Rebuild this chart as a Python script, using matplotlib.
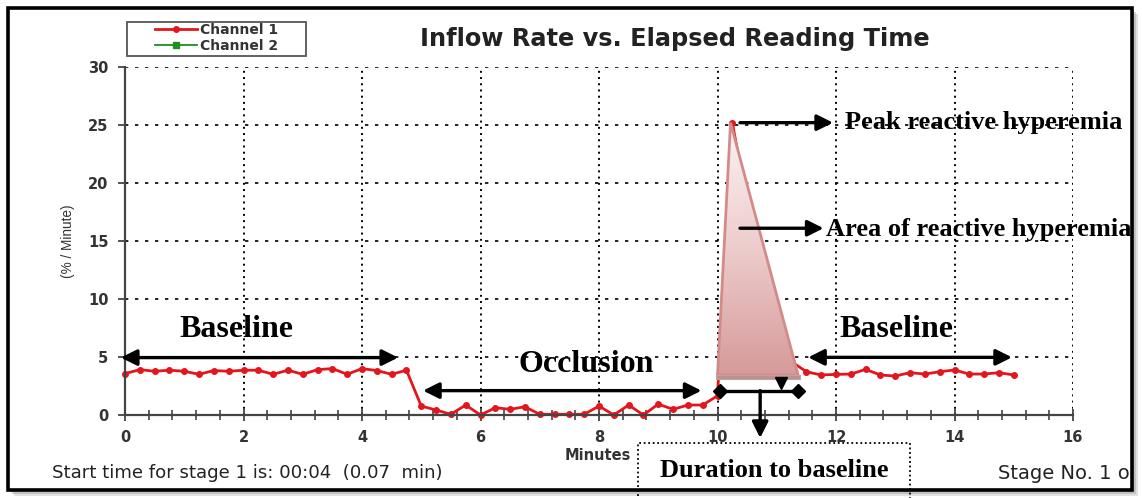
import numpy as np
import matplotlib
matplotlib.use('Agg')
import matplotlib.pyplot as plt
from matplotlib.patches import Rectangle, Polygon
from matplotlib.ticker import MultipleLocator
from matplotlib.colors import LinearSegmentedColormap

# ---------------- data ----------------
minutes = [0.0, 0.25, 0.5, 0.75, 1.0, 1.25, 1.5, 1.75, 2.0, 2.25, 2.5, 2.75,
           3.0, 3.25, 3.5, 3.75, 4.0, 4.25, 4.5, 4.75, 5.0, 5.25, 5.5, 5.75,
           6.0, 6.25, 6.5, 6.75, 7.0, 7.25, 7.5, 7.75, 8.0, 8.25, 8.5, 8.75,
           9.0, 9.25, 9.5, 9.75, 10.0, 10.25, 10.5, 10.75, 11.0, 11.25, 11.5,
           11.75, 12.0, 12.25, 12.5, 12.75, 13.0, 13.25, 13.5, 13.75, 14.0,
           14.25, 14.5, 14.75, 15.0]
channel1 = [3.57, 3.91, 3.77, 3.86, 3.77, 3.51, 3.83, 3.77, 3.86, 3.86, 3.51, 3.86,
            3.51, 3.91, 4.00, 3.51, 4.00, 3.83, 3.51, 3.86, 0.77, 0.43, 0.06, 0.86,
            0.00, 0.63, 0.49, 0.71, 0.06, 0.06, 0.06, 0.06, 0.77, 0.00, 0.86, 0.00,
            0.94, 0.49, 0.86, 0.86, 1.66, 25.2, 18.3, 13.2, 8.4, 4.6, 3.73,
            3.45, 3.50, 3.53, 3.93, 3.45, 3.36, 3.65, 3.53, 3.73, 3.88,
            3.53, 3.53, 3.65, 3.45]
series_labels = ['Channel 1', 'Channel 2']
x_ticks = [0, 2, 4, 6, 8, 10, 12, 14, 16]
y_ticks = [0, 5, 10, 15, 20, 25, 30]

# reactive-hyperemia area triangle (minutes, % / minute)
area_x = [10.0, 10.22, 11.36]
area_y = [3.45, 25.2, 3.45]

W, H = 1142, 498
fig = plt.figure(figsize=(W / 100, H / 100), dpi=100)
fig.patch.set_facecolor('white')


def px(x, y):
    return (x / W, 1 - y / H)


# frame with shadow
for off, a in [(6, 0.25), (4, 0.35), (2, 0.5)]:
    fig.patches.append(Rectangle(px(8 + off, 490 + off), 1124 / W, 482 / H,
                                 transform=fig.transFigure, facecolor='#8a8a8a',
                                 edgecolor='none', alpha=a, zorder=-3))
fig.patches.append(Rectangle(px(8, 490), 1124 / W, 482 / H, transform=fig.transFigure,
                             facecolor='white', edgecolor='black', lw=2.6, zorder=-1))

left, right, bottom, top = 125, 1073, 415, 67
ax = fig.add_axes([left / W, 1 - bottom / H, (right - left) / W, (bottom - top) / H])
ax.patch.set_alpha(0)

red = '#e3161d'
ax.plot(minutes, channel1, color=red, lw=2.0, marker='o', ms=4, zorder=2,
        clip_on=False)
ax.plot([], [], color='#1f8f1f', lw=1.3, marker='s', ms=5)

# gradient triangle
tri = Polygon(list(zip(area_x, area_y)), closed=True, facecolor='none',
              edgecolor='#d58a8a', lw=2, zorder=4)
ax.add_patch(tri)
cmap = LinearSegmentedColormap.from_list('pk', ['#d69a9a', '#edcccc', '#fbf4f4'])
grad = np.linspace(0, 1, 256).reshape(-1, 1)
im = ax.imshow(grad, extent=[9.9, 11.5, 3.45, 25.3], origin='lower', cmap=cmap,
               aspect='auto', zorder=3, interpolation='bilinear')
im.set_clip_path(tri)
ax.add_patch(Rectangle((9.98, 3.07), 1.41, 0.40, facecolor='#b99393',
                       edgecolor='#c9a0a0', lw=0.8, zorder=4))

ax.set_xlim(0, 16)
ax.set_ylim(0, 30)
ax.set_xticks(x_ticks)
ax.set_yticks(y_ticks)
ax.xaxis.set_minor_locator(MultipleLocator(0.4))
ax.xaxis.grid(True, which='major', color='black', linestyle=(0, (1, 2.2)), lw=1.4)
ax.yaxis.grid(True, which='major', color='black', linestyle=(0, (2, 4)), lw=1.2)
for s in ['top', 'right']:
    ax.spines[s].set_visible(False)
for s in ['left', 'bottom']:
    ax.spines[s].set_color('#444444')
    ax.spines[s].set_linewidth(1.6)
ax.tick_params(axis='x', which='major', direction='inout', length=8, width=1.3,
               color='#444444', pad=7, labelsize=10.5, labelcolor='#333333')
ax.tick_params(axis='x', which='minor', direction='inout', length=7, width=1.2,
               color='#444444')
ax.tick_params(axis='y', which='major', direction='out', length=5, width=1.3,
               color='#444444', pad=7, labelsize=10.5, labelcolor='#333333')
for lab in ax.get_xticklabels() + ax.get_yticklabels():
    lab.set_fontweight('bold')
    lab.set_family('DejaVu Sans')

# annotations
serif = 'Liberation Serif'
arrow_kw = dict(color='black', lw=2.4, mutation_scale=24, shrinkA=0, shrinkB=0)


def arrow(tail, tip, style='-|>'):
    ax.annotate('', xy=tip, xytext=tail,
                arrowprops=dict(arrowstyle=style, **arrow_kw),
                annotation_clip=False, zorder=6)


arrow((-0.07, 4.95), (4.61, 4.95), '<|-|>')
ax.text(1.88, 6.72, 'Baseline', family=serif, weight='bold', fontsize=23,
        ha='center', va='baseline', zorder=6)
arrow((5.03, 2.1), (9.73, 2.1), '<|-|>')
ax.text(7.78, 3.7, 'Occlusion', family=serif, weight='bold', fontsize=23,
        ha='center', va='baseline', zorder=6)
arrow((11.53, 4.97), (14.97, 4.97), '<|-|>')
ax.text(13.02, 6.72, 'Baseline', family=serif, weight='bold', fontsize=23,
        ha='center', va='baseline', zorder=6)

arrow((10.38, 25.2), (11.95, 25.2))
ax.text(12.15, 25.2, 'Peak reactive hyperemia', family=serif, weight='bold',
        fontsize=19, ha='left', va='center', zorder=6, clip_on=False)
arrow((10.38, 16.1), (11.79, 16.1))
ax.text(11.83, 16.0, 'Area of reactive hyperemia', family=serif, weight='bold',
        fontsize=19, ha='left', va='center', zorder=6, clip_on=False)

ax.plot([10.05, 11.36], [2.1, 2.1], color='black', lw=2.4, marker='D', ms=7,
        zorder=6, clip_on=False)
ax.plot([11.07], [2.8], marker='v', color='black', ms=8, zorder=6, clip_on=False)
arrow((10.72, 2.1), (10.72, -1.98))

# texts in figure
fig.text(*px(675, 39), 'Inflow Rate vs. Elapsed Reading Time', family='DejaVu Sans',
         weight='bold', fontsize=17.3, ha='center', va='center', color='#222222')
fig.text(*px(68, 241), '(% / Minute)', family='Liberation Sans', fontsize=9.8,
         rotation=90, ha='center', va='center', color='#333333')
fig.text(*px(598, 456), 'Minutes', family='DejaVu Sans', weight='bold', fontsize=10.5,
         ha='center', va='center', color='#333333')
fig.text(*px(52, 473), 'Start time for stage 1 is: 00:04  (0.07  min)',
         family='DejaVu Sans', fontsize=13.1, ha='left', va='center', color='#222222')
fig.text(*px(998, 473), 'Stage No. 1 o', family='DejaVu Sans', fontsize=14.0,
         ha='left', va='center', color='#222222')

# duration box
fig.patches.append(Rectangle(px(638, 520), 272 / W, 77 / H, transform=fig.transFigure,
                             facecolor='none', edgecolor='black', lw=1.3,
                             linestyle=(0, (1, 1.5)), zorder=5))
fig.text(*px(774, 470), 'Duration to baseline', family=serif, weight='bold',
         fontsize=19, ha='center', va='center', color='black')

# legend (frame drawn separately to match the original box)
fig.patches.append(Rectangle(px(127, 56), 179 / W, 34 / H, transform=fig.transFigure,
                             facecolor='white', edgecolor='#555555', lw=1.3, zorder=1))
lines = ax.get_lines()
leg = fig.legend([lines[0], lines[1]], series_labels, loc='upper left',
                 bbox_to_anchor=px(155, 22.5), frameon=False,
                 prop=dict(family='DejaVu Sans', weight='bold', size=10),
                 handlelength=3.0, handletextpad=0.25, labelspacing=0.16,
                 borderpad=0, borderaxespad=0)
leg.set_zorder(2)
for t in leg.get_texts():
    t.set_color('#333333')

fig.savefig('out.png', dpi=100, facecolor='white')
